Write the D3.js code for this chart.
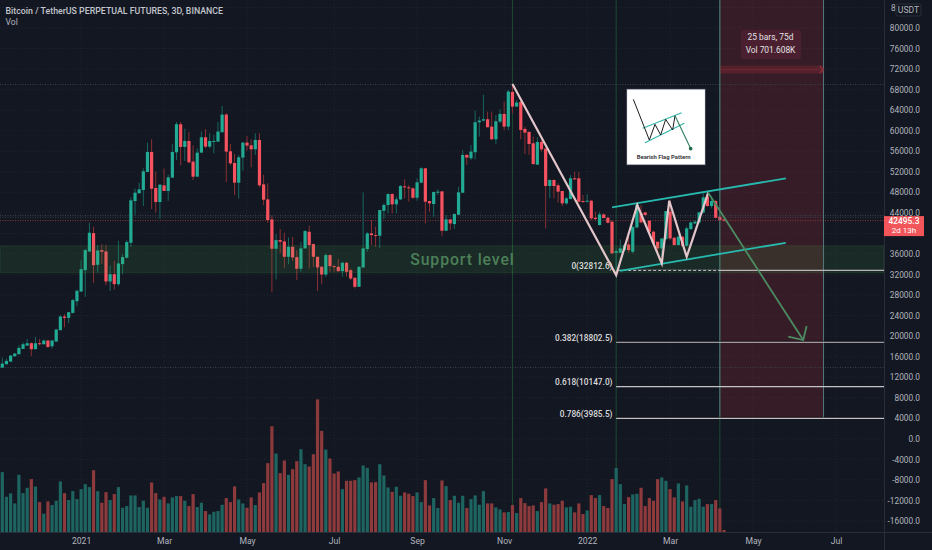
<!DOCTYPE html>
<html>
<head>
<meta charset="utf-8">
<script src="https://cdn.jsdelivr.net/npm/d3@7"></script>
<style>
  html, body { margin: 0; padding: 0; background: #131722; overflow: hidden; }
  text { font-family: Roboto, sans-serif; }
</style>
</head>
<body>
<div id="chart"></div>
<script>
// BTCUSDT perp, 3D bars
const opens = [
  13870,14520,15040,16080,16470,17510,18160,18620,17450,18620,
  18420,19140,18030,18940,21150,23820,23560,24530,26800,28690,
  32850,36490,40060,33890,36750,36490,30640,32070,30120,34020,
  35260,38180,46300,47800,48450,51960,55860,48840,46110,49360,
  48260,50860,55800,61260,56840,58000,53980,51050,55730,58720,
  56900,57880,57880,59700,63140,55990,53720,49880,54760,57680,
  57160,56380,58200,49550,46630,42730,37010,38700,38440,35450,
  37400,35390,33110,37080,40320,37920,35450,33500,32000,35780,
  33630,33500,32650,34280,32850,31350,29600,33370,36950,40000,
  39680,39550,44420,45530,47670,45660,46630,49170,48970,48780,
  46950,49880,52680,46300,45720,47930,48190,40520,42730,41820,
  43640,47930,55280,54630,55800,61650,61970,62230,60800,58330,
  61780,63270,60800,67560,64700,65610,60350,59760,57550,53390,
  57810,56510,49230,50400,49360,48260,45850,46700,50730,50730,
  46300,46180,46370,43050,41630,43700,43050,42280,36230,36230,
  36750,37850,36430,41170,43900,44100,42470,40330,38380,37080,
  38900,44230,39150,37720,39350,37600,40850,41950,42150,44100,
  47150,45330,46300,43250,42730]
const closes = [
  14650,15170,16210,16600,17700,18420,18620,17450,18620,18420,
  19140,17900,19140,21280,23820,23560,24660,27000,28820,33040,
  36750,40130,33820,36680,36430,30640,32070,30120,34150,35390,
  38310,46440,47930,48580,52090,55860,48710,46110,49490,48260,
  50920,55860,61260,56840,58000,53850,51050,55730,58720,56900,
  58000,58000,59830,63140,55930,53650,49880,54820,57680,57100,
  56380,58200,49360,46570,42600,37010,38700,38380,35450,37400,
  35320,33110,37080,40460,37720,35450,33370,32000,35780,33630,
  33500,32650,34280,32520,31220,29600,33500,37080,40000,39680,
  39550,44550,45530,47670,45660,46630,49230,48970,48780,46950,
  49950,52680,46180,45850,48060,48130,40520,42730,41950,43770,
  48000,55280,54760,55930,61650,61970,62230,60670,58330,61840,
  63270,60800,67630,64700,65480,60150,59630,57420,53520,57810,
  56380,49230,50400,49230,48130,45850,46830,50730,50530,46180,
  46180,46370,42930,42800,43700,43000,42080,36100,36550,37080,
  37720,36750,41300,45530,42150,43570,40330,38050,37080,39020,
  44350,39020,37720,39350,37600,40980,42150,42280,44100,47020,
  45330,46300,43050,42600,42495]
const highs = [
  15820,15620,16340,16730,18220,18810,19460,18810,19850,19460,
  19330,19270,19270,21410,24080,24270,24660,27260,29080,34800,
  37010,42080,41300,37720,37920,37790,33760,34670,38570,35970,
  38700,47020,48710,49880,52680,57680,58330,52090,49620,52610,
  51440,57420,61710,61710,60410,59760,57160,56580,59830,60280,
  59500,59180,61710,64830,63470,57420,55470,55280,57810,58980,
  58330,59500,59500,51440,49750,43510,39870,40850,40130,39220,
  39350,36750,38380,40650,41500,38050,35450,33630,36100,35970,
  33820,34990,34480,34480,33170,31550,33630,47990,40320,42600,
  41300,44550,45850,47800,47800,47150,49430,50530,49430,48970,
  50730,52870,52680,46370,48130,48580,48190,43570,42730,43900,
  49100,56250,55470,57220,63920,62750,66980,63730,63730,63080,
  64180,65680,67950,69120,66000,66330,60800,59830,58850,58720,
  58200,56580,50530,50530,49750,48260,47150,51370,52030,52030,
  47480,47670,46500,44230,44230,43900,43250,42600,37080,38830,
  38050,39350,41300,45850,45530,44230,42600,40520,38380,39020,
  44350,46500,39350,39680,39480,41300,42280,42600,44230,47800,
  47800,47150,46500,43380,42800]
const lows = [
  13870,14520,14980,16020,16470,17510,18100,16080,17450,18160,
  18360,17700,17580,18940,21150,21730,22520,24400,25830,28560,
  27650,36360,30380,32330,34020,29930,28820,29080,29800,32070,
  35130,37400,43570,47800,45330,51960,44750,44030,42860,48260,
  46370,50860,54300,53260,54100,53650,50400,51050,55730,56580,
  56580,55600,57880,59700,50010,53260,47480,46830,52220,56120,
  52870,55280,48970,45530,42080,28560,31030,36100,33300,34020,
  34600,30900,32520,37080,33170,33500,28820,30120,31550,32520,
  32520,32520,31550,31550,30900,29270,29600,33370,36430,37720,
  37400,37200,42800,43900,43900,43900,46500,46830,46180,46700,
  46370,49750,41950,44230,43250,47480,39480,40520,40650,40850,
  43570,47800,53330,54300,54430,58850,61780,60670,58200,57420,
  61450,60150,60150,63400,64700,58330,55470,55280,53330,53330,
  55930,40980,46830,46830,45980,45330,45530,46630,50400,45980,
  45980,45980,42600,42600,41500,42930,41950,36100,31880,36230,
  36620,36230,36100,40980,41950,43570,40000,37720,36430,35450,
  38700,38700,37720,37720,37400,37400,40650,41820,41950,43900,
  45200,44880,42930,42470,42280]
// relative volume per bar
const volumes = [
  180,106,116,86,172,117,133,159,137,90,
  55,92,81,94,152,117,96,123,99,129,
  144,135,186,123,88,120,96,114,135,73,
  78,110,110,75,94,73,149,117,98,106,
  86,104,108,108,94,78,114,75,88,63,
  53,61,63,82,102,90,137,98,86,73,
  104,81,119,147,207,318,236,177,215,172,
  189,213,249,204,197,234,399,304,248,221,
  176,182,129,154,154,156,164,200,193,149,
  150,204,170,134,121,136,109,119,115,108,
  119,90,156,80,102,72,155,138,96,109,
  88,109,72,99,110,82,123,86,86,74,
  68,59,60,81,57,102,87,78,80,63,
  90,131,86,82,84,94,74,76,59,86,
  54,65,111,102,111,78,72,159,193,144,
  84,105,113,115,133,78,102,94,159,164,
  154,129,104,146,92,140,76,96,100,76,
  84,84,96,71,6]

const priceTicks = [84000,80000,76000,72000,68000,64000,60000,56000,52000,48000,44000,40000,36000,32000,28000,24000,20000,16000,12000,8000,4000,0,-4000,-8000,-12000,-16000]
const timeTicks = [19,39,59,80,100,121,141,161,181,201]
const timeLabels = ["2021","Mar","May","Jul","Sep","Nov","2022","Mar","May","Jul"]

const lastPrice = 42495.3
const supportTop = 37600, supportBottom = 32340
const dottedLevels = [69000, 43500, 43150, 13900]
const markerBars = [123, 148, 173]
const rangeStart = 173, rangeEnd = 198, rangeLevel = 71900
const fibLevels = [
  {label: "0(32812.6)", price: 32812.6},
  {label: "0.382(18802.5)", price: 18802.5},
  {label: "0.618(10147.0)", price: 10147},
  {label: "0.786(3985.5)", price: 3985.5}
]
const waveBars = [123, 148, 153.1, 159, 160.8, 165, 170.2]
const wavePrices = [69100, 31875, 45525, 34150, 46370, 35450, 47930]
const flagUpperBars = [147, 188.9], flagUpperPrices = [45070, 50725]
const flagLowerBars = [148.9, 188.9], flagLowerPrices = [32720, 38180]
const arrowBars = [170.2, 193.1], arrowPrices = [47930, 19240]

const width = 932, height = 550
const axisX = 884, axisY = 532

const x = d3.scaleLinear().domain([0, 174]).range([2.3, 724])
const y = d3.scaleLinear().domain([-16000, 80000]).range([521, 28])
const yVol = d3.scaleLinear().domain([0, 400]).range([axisY, 399])
const bars = d3.range(opens.length)
const isUp = i => closes[i] >= opens[i]

const svg = d3.select("#chart").append("svg")
    .attr("width", width)
    .attr("height", height)
    .attr("viewBox", [0, 0, width, height])
    .style("display", "block")

svg.append("rect").attr("width", width).attr("height", height).attr("fill", "#131722")

// grid
svg.append("g").selectAll("line").data(priceTicks).join("line")
    .attr("x1", 0).attr("x2", axisX)
    .attr("y1", d => y(d)).attr("y2", d => y(d))
    .attr("stroke", "#1f2430").attr("stroke-dasharray", "1,2")
svg.append("g").selectAll("line").data(timeTicks).join("line")
    .attr("x1", d => x(d)).attr("x2", d => x(d))
    .attr("y1", 0).attr("y2", axisY)
    .attr("stroke", "#1f2430").attr("stroke-dasharray", "1,2")

// date range box
svg.append("rect")
    .attr("x", x(rangeStart)).attr("y", 0)
    .attr("width", x(rangeEnd) - x(rangeStart))
    .attr("height", y(fibLevels[3].price))
    .attr("fill", "#f23645").attr("fill-opacity", 0.16)

// highest / lowest / last price guides
svg.append("g").selectAll("line").data(dottedLevels).join("line")
    .attr("x1", 0).attr("x2", axisX)
    .attr("y1", d => y(d)).attr("y2", d => y(d))
    .attr("stroke", "#3c414e").attr("stroke-dasharray", "1,1.5")
svg.append("line")
    .attr("x1", 0).attr("x2", axisX)
    .attr("y1", y(lastPrice)).attr("y2", y(lastPrice))
    .attr("stroke", "#8a3840").attr("stroke-dasharray", "1,1.5")

// marker verticals
svg.append("g").selectAll("line").data(markerBars).join("line")
    .attr("x1", d => x(d)).attr("x2", d => x(d))
    .attr("y1", 0).attr("y2", axisY)
    .attr("stroke", "#1c4a32")

// volume
svg.append("g").selectAll("rect").data(bars).join("rect")
    .attr("x", i => x(i) - 1.6)
    .attr("y", i => yVol(volumes[i]))
    .attr("width", 3.2)
    .attr("height", i => axisY - yVol(volumes[i]))
    .attr("fill", i => isUp(i) ? "#1e6460" : "#8c3a3c")

// candles
svg.append("g").selectAll("line").data(bars).join("line")
    .attr("x1", i => x(i)).attr("x2", i => x(i))
    .attr("y1", i => y(highs[i])).attr("y2", i => y(lows[i]))
    .attr("stroke", i => isUp(i) ? "#17665f" : "#8a2f32")
svg.append("g").selectAll("rect").data(bars).join("rect")
    .attr("x", i => x(i) - 1.6)
    .attr("y", i => y(Math.max(opens[i], closes[i])))
    .attr("width", 3.2)
    .attr("height", i => Math.max(1, Math.abs(y(opens[i]) - y(closes[i]))))
    .attr("fill", i => isUp(i) ? "#22ab94" : "#f7525f")

// support zone
svg.append("rect")
    .attr("x", 0).attr("y", y(supportTop))
    .attr("width", axisX).attr("height", y(supportBottom) - y(supportTop))
    .attr("fill", "#4caf50").attr("fill-opacity", 0.13)
    .attr("stroke", "#4caf50").attr("stroke-opacity", 0.15)
svg.append("text")
    .attr("x", 462.5).attr("y", y((supportTop + supportBottom) / 2) + 5.5)
    .attr("text-anchor", "middle")
    .attr("font-size", 15.8).attr("font-weight", 500)
    .attr("letter-spacing", 0.9)
    .attr("fill", "#4c7f58")
    .text("Support level")

// date range borders + arrow + tooltip
svg.append("g").selectAll("line").data([rangeStart, rangeEnd]).join("line")
    .attr("x1", d => x(d)).attr("x2", d => x(d))
    .attr("y1", 0).attr("y2", y(fibLevels[3].price))
    .attr("stroke", "#54797c")
svg.append("rect")
    .attr("x", x(rangeStart)).attr("y", y(rangeLevel) - 4)
    .attr("width", x(rangeEnd) - x(rangeStart)).attr("height", 8)
    .attr("fill", "#f23645").attr("fill-opacity", 0.16)
svg.append("line")
    .attr("x1", x(rangeStart)).attr("x2", x(rangeEnd))
    .attr("y1", y(rangeLevel)).attr("y2", y(rangeLevel))
    .attr("stroke", "#7a2a36").attr("stroke-width", 1.2).attr("stroke-opacity", 0.6)
svg.append("path")
    .attr("d", `M${x(rangeEnd) - 4},${y(rangeLevel) - 3.5}L${x(rangeEnd)},${y(rangeLevel)}L${x(rangeEnd) - 4},${y(rangeLevel) + 3.5}`)
    .attr("fill", "none").attr("stroke", "#8f2f3c").attr("stroke-width", 1.3)
svg.append("rect")
    .attr("x", 741).attr("y", 30).attr("width", 60).attr("height", 29).attr("rx", 2)
    .attr("fill", "#4a2030")
svg.append("g").selectAll("text").data(["25 bars, 75d", "Vol 701.608K"]).join("text")
    .attr("x", 770.5).attr("y", (d, i) => 40 + i * 13)
    .attr("text-anchor", "middle").attr("font-size", 8.4)
    .attr("fill", "#e4e2e4")
    .text(d => d)

// fib levels
svg.append("g").selectAll("line").data([fibLevels[1], fibLevels[3]]).join("line")
    .attr("x1", x(148)).attr("x2", axisX)
    .attr("y1", d => y(d.price) - 1).attr("y2", d => y(d.price) - 1)
    .attr("stroke", "#07090e").attr("stroke-width", 0.8)
svg.append("g").selectAll("line").data(fibLevels.slice(1)).join("line")
    .attr("x1", x(148)).attr("x2", axisX)
    .attr("y1", d => y(d.price)).attr("y2", d => y(d.price))
    .attr("stroke", "#c4c1c4").attr("stroke-width", 1.2)
svg.append("line")
    .attr("x1", x(148)).attr("x2", axisX)
    .attr("y1", y(fibLevels[0].price)).attr("y2", y(fibLevels[0].price))
    .attr("stroke", "#b8b6b8").attr("stroke-width", 1.2)
svg.append("line")
    .attr("x1", x(148)).attr("x2", x(rangeStart))
    .attr("y1", y(fibLevels[0].price)).attr("y2", y(fibLevels[0].price))
    .attr("stroke", "#1f2430").attr("stroke-width", 1.2).attr("stroke-dasharray", "2,3")
svg.append("g").selectAll("text").data(fibLevels).join("text")
    .attr("x", 612.5).attr("y", d => y(d.price) - 1.5)
    .attr("text-anchor", "end").attr("font-size", 8.3).attr("font-weight", 500)
    .attr("fill", "#dcdcdc")
    .text(d => d.label)

// flag channel
const flagLine = d3.line().x(d => x(d[0])).y(d => y(d[1]))
svg.append("path").datum(d3.zip(flagUpperBars, flagUpperPrices))
    .attr("d", flagLine).attr("fill", "none").attr("stroke", "#27b9ae").attr("stroke-width", 1.8)
svg.append("path").datum(d3.zip(flagLowerBars, flagLowerPrices))
    .attr("d", flagLine).attr("fill", "none").attr("stroke", "#27b9ae").attr("stroke-width", 1.8)

// wave
svg.append("path").datum(d3.zip(waveBars, wavePrices))
    .attr("d", flagLine).attr("fill", "none")
    .attr("stroke", "#e3c6ca").attr("stroke-width", 2.2).attr("stroke-linejoin", "miter")

// projected move
svg.append("path").datum(d3.zip(arrowBars, arrowPrices))
    .attr("d", flagLine).attr("fill", "none").attr("stroke", "#4c8c62").attr("stroke-width", 1.8)
const tipX = x(arrowBars[1]), tipY = y(arrowPrices[1])
svg.append("path")
    .attr("d", `M${tipX - 15},${tipY - 3.3}L${tipX},${tipY}L${tipX + 3.4},${tipY - 14}`)
    .attr("fill", "none").attr("stroke", "#4c8c62").attr("stroke-width", 1.8)

// inset picture of the pattern, in its own little coordinates
const insetBlack = [[40,43],[88,165],[105,118],[122,150],[137,103],[158,135],[165,92]]
const insetUpper = [[68,130],[185,83]]
const insetLower = [[75,173],[193,115]]
const insetArrow = [[165,92],[213,193]]
const inX = d3.scaleLinear().domain([0, 285]).range([620, 715])
const inY = d3.scaleLinear().domain([0, 255]).range([85, 170])
const inLine = d3.line().x(d => inX(d[0])).y(d => inY(d[1]))
svg.append("rect")
    .attr("x", inX(20)).attr("y", inY(12)).attr("width", inX(256) - inX(20)).attr("height", inY(240) - inY(12))
    .attr("fill", "#fff").attr("stroke", "#33384a").attr("stroke-width", 0.8)
svg.append("path").attr("d", inLine(insetUpper)).attr("fill", "none").attr("stroke", "#2fb5aa").attr("stroke-width", 1.1)
svg.append("path").attr("d", inLine(insetLower)).attr("fill", "none").attr("stroke", "#2fb5aa").attr("stroke-width", 1.1)
svg.append("path").attr("d", inLine(insetBlack)).attr("fill", "none").attr("stroke", "#1c1c20").attr("stroke-width", 1)
svg.append("path").attr("d", inLine(insetArrow)).attr("fill", "none").attr("stroke", "#2f7d5c").attr("stroke-width", 1.1)
svg.append("circle").attr("cx", inX(212)).attr("cy", inY(191)).attr("r", 1.8).attr("fill", "#1f6a48")
svg.append("text")
    .attr("x", inX(131)).attr("y", inY(223))
    .attr("text-anchor", "middle").attr("font-size", 5.9).attr("font-weight", 700)
    .attr("fill", "#3a3a40")
    .text("Bearish Flag Pattern")

// axes; the badge cuts 84000 down to "8" and the price tag hides 40000
const yAxis = d3.axisRight(y).tickValues(priceTicks).tickSize(0)
    .tickFormat(d => d === 84000 ? "8" : d === 40000 ? "" : d.toFixed(1))
const gy = svg.append("g").attr("transform", `translate(${axisX},0)`).call(yAxis)
gy.select(".domain").attr("stroke", "#2a2e39").attr("d", `M0.5,0V${height}`)
gy.selectAll("text")
    .attr("x", d => d === 84000 ? 7 : 36)
    .attr("text-anchor", d => d === 84000 ? "start" : "end")
    .attr("font-size", 8.3).attr("fill", "#b2b5be")
    .attr("font-family", "Roboto, sans-serif")

const xAxis = d3.axisBottom(x).tickValues(timeTicks).tickSize(0)
    .tickFormat((d, i) => timeLabels[i])
const gx = svg.append("g").attr("transform", `translate(0,${axisY})`).call(xAxis)
gx.select(".domain").attr("stroke", "#2a2e39").attr("d", `M0,0.5H${width}`)
gx.selectAll("text")
    .attr("y", 6).attr("font-size", 8.6).attr("fill", "#b2b5be")
    .attr("font-family", "Roboto, sans-serif")

// scale badge + last price tag
svg.append("rect")
    .attr("x", 896).attr("y", 4).attr("width", 25).attr("height", 12).attr("rx", 2)
    .attr("fill", "#131722").attr("stroke", "#2a2e39")
svg.append("text")
    .attr("x", 908.5).attr("y", 13).attr("text-anchor", "middle")
    .attr("font-size", 8.6).attr("fill", "#b2b5be")
    .text("USDT")
svg.append("rect")
    .attr("x", axisX).attr("y", y(lastPrice) - 4.5).attr("width", 40).attr("height", 20)
    .attr("fill", "#f2555a")
svg.append("text")
    .attr("x", 904).attr("y", y(lastPrice) + 3).attr("text-anchor", "middle")
    .attr("font-size", 8.4).attr("font-weight", 500).attr("fill", "#fff")
    .text(lastPrice)
svg.append("text")
    .attr("x", 904).attr("y", y(lastPrice) + 12.5).attr("text-anchor", "middle")
    .attr("font-size", 8).attr("fill", "#fff")
    .text("2d 13h")

// header
svg.append("text")
    .attr("x", 5.5).attr("y", 14)
    .attr("font-size", 8.8).attr("font-weight", 500).attr("fill", "#c2c5cc")
    .text("Bitcoin / TetherUS PERPETUAL FUTURES, 3D, BINANCE")
svg.append("text")
    .attr("x", 5.5).attr("y", 25)
    .attr("font-size", 8.6).attr("fill", "#b2b5be")
    .text("Vol")
</script>
</body>
</html>
